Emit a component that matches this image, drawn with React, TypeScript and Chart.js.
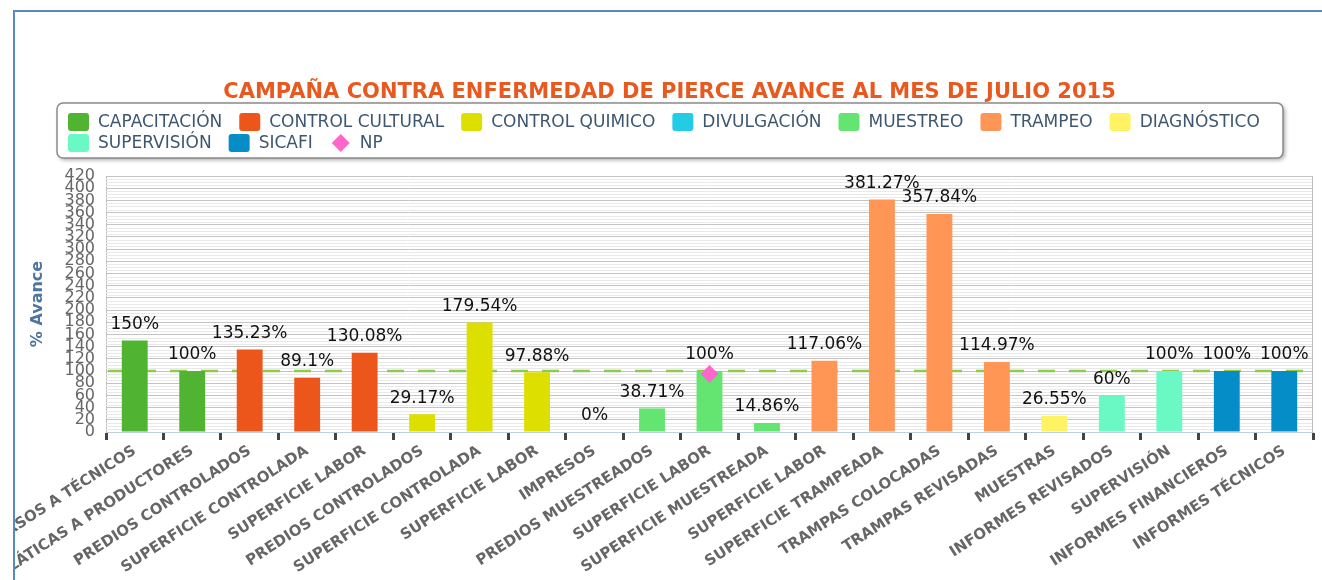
import React, { useEffect, useRef } from 'react';
import { Chart, registerables } from 'chart.js';

Chart.register(...registerables);

const N = null;

const categories = [
  'CURSOS A TÉCNICOS',
  'PLÁTICAS A PRODUCTORES',
  'PREDIOS CONTROLADOS',
  'SUPERFICIE CONTROLADA',
  'SUPERFICIE LABOR',
  'PREDIOS CONTROLADOS',
  'SUPERFICIE CONTROLADA',
  'SUPERFICIE LABOR',
  'IMPRESOS',
  'PREDIOS MUESTREADOS',
  'SUPERFICIE LABOR',
  'SUPERFICIE MUESTREADA',
  'SUPERFICIE LABOR',
  'SUPERFICIE TRAMPEADA',
  'TRAMPAS COLOCADAS',
  'TRAMPAS REVISADAS',
  'MUESTRAS',
  'INFORMES REVISADOS',
  'SUPERVISIÓN',
  'INFORMES FINANCIEROS',
  'INFORMES TÉCNICOS',
];

const capacitacion = [150, 100, N, N, N, N, N, N, N, N, N, N, N, N, N, N, N, N, N, N, N];
const controlCultural = [N, N, 135.23, 89.1, 130.08, N, N, N, N, N, N, N, N, N, N, N, N, N, N, N, N];
const controlQuimico = [N, N, N, N, N, 29.17, 179.54, 97.88, N, N, N, N, N, N, N, N, N, N, N, N, N];
const divulgacion = [N, N, N, N, N, N, N, N, 0, N, N, N, N, N, N, N, N, N, N, N, N];
const muestreo = [N, N, N, N, N, N, N, N, N, 38.71, 100, 14.86, N, N, N, N, N, N, N, N, N];
const trampeo = [N, N, N, N, N, N, N, N, N, N, N, N, 117.06, 381.27, 357.84, 114.97, N, N, N, N, N];
const diagnostico = [N, N, N, N, N, N, N, N, N, N, N, N, N, N, N, N, 26.55, N, N, N, N];
const supervision = [N, N, N, N, N, N, N, N, N, N, N, N, N, N, N, N, N, 60, 100, N, N];
const sicafi = [N, N, N, N, N, N, N, N, N, N, N, N, N, N, N, N, N, N, N, 100, 100];
const np = [N, N, N, N, N, N, N, N, N, N, 95, N, N, N, N, N, N, N, N, N, N];

const seriesNames = ['CAPACITACIÓN', 'CONTROL CULTURAL', 'CONTROL QUIMICO', 'DIVULGACIÓN', 'MUESTREO', 'TRAMPEO', 'DIAGNÓSTICO', 'SUPERVISIÓN', 'SICAFI'];
const seriesData = [capacitacion, controlCultural, controlQuimico, divulgacion, muestreo, trampeo, diagnostico, supervision, sicafi];
const seriesColors = ['#50B432', '#ED561B', '#DDDF00', '#24CBE5', '#64E572', '#FF9655', '#FFF263', '#6AF9C4', '#058DC7'];
const npName = 'NP';
const npColor = '#FF66CC';

const yMin = 0;
const yMax = 420;
const yStep = 20;
const yMinorStep = 5;
const targetValue = 100;

const titleText = 'CAMPAÑA CONTRA ENFERMEDAD DE PIERCE AVANCE AL MES DE JULIO 2015';
const yTitleText = '% Avance';

const FONT = "'DejaVu Sans', Verdana, sans-serif";

const decorPlugin = {
  id: 'decor',
  beforeDatasetsDraw(chart: any) {
    const { ctx, chartArea: a, scales } = chart;
    const y = scales.y;
    ctx.save();
    ctx.strokeStyle = '#e9e9e9';
    ctx.lineWidth = 1;
    for (let v = yMin + yMinorStep; v < yMax; v += yMinorStep) {
      if (v % yStep === 0) continue;
      const py = Math.round(y.getPixelForValue(v)) + 0.5;
      ctx.beginPath();
      ctx.moveTo(a.left, py);
      ctx.lineTo(a.right, py);
      ctx.stroke();
    }
    ctx.strokeStyle = '#c0c0c0';
    ctx.beginPath();
    ctx.moveTo(Math.round(a.right) - 0.5, a.top);
    ctx.lineTo(Math.round(a.right) - 0.5, a.bottom);
    ctx.stroke();
    const ty = y.getPixelForValue(targetValue);
    ctx.strokeStyle = '#8DCB4A';
    ctx.lineWidth = 2.5;
    ctx.setLineDash([17, 14]);
    ctx.lineDashOffset = -2;
    ctx.beginPath();
    ctx.moveTo(a.left, ty);
    ctx.lineTo(a.right, ty);
    ctx.stroke();
    ctx.restore();
  },
  afterDatasetsDraw(chart: any) {
    const { ctx } = chart;
    ctx.save();
    ctx.font = `17px ${FONT}`;
    ctx.fillStyle = '#111';
    ctx.textAlign = 'center';
    ctx.textBaseline = 'middle';
    chart.data.datasets.forEach((ds: any, di: number) => {
      if (ds.type === 'line') return;
      const meta = chart.getDatasetMeta(di);
      ds.data.forEach((v: any, i: number) => {
        if (v === null || v === undefined) return;
        const el = meta.data[i];
        if (!el) return;
        ctx.fillText(`${v}%`, el.x, el.y - 16);
      });
    });
    ctx.restore();
  },
  afterDraw(chart: any) {
    const { ctx, width } = chart;
    ctx.save();
    ctx.font = `bold 21px ${FONT}`;
    ctx.fillStyle = '#E8591F';
    ctx.textAlign = 'center';
    ctx.textBaseline = 'middle';
    ctx.fillText(titleText, width / 2 + 1, 81);

    ctx.save();
    ctx.translate(23, 292);
    ctx.rotate(-Math.PI / 2);
    ctx.font = `bold 16px ${FONT}`;
    ctx.fillStyle = '#4d759e';
    ctx.fillText(yTitleText, 0, 0);
    ctx.restore();

    const bx = 42, by = 91, bw = 1226, bh = 55;
    ctx.save();
    ctx.shadowColor = 'rgba(0,0,0,0.35)';
    ctx.shadowBlur = 4;
    ctx.shadowOffsetX = 2;
    ctx.shadowOffsetY = 2;
    ctx.fillStyle = '#fff';
    ctx.beginPath();
    ctx.roundRect(bx, by, bw, bh, 6);
    ctx.fill();
    ctx.restore();
    ctx.strokeStyle = '#8a8a8a';
    ctx.lineWidth = 1.5;
    ctx.beginPath();
    ctx.roundRect(bx, by, bw, bh, 6);
    ctx.stroke();

    const items = seriesNames.map((n, i) => ({ name: n, color: seriesColors[i], diamond: false }));
    items.push({ name: npName, color: npColor, diamond: true });
    ctx.font = `17px ${FONT}`;
    ctx.textAlign = 'left';
    ctx.textBaseline = 'middle';
    const gap = 17;
    let x = bx + 11;
    let rowY = by + 19;
    items.forEach((it) => {
      const tw = ctx.measureText(it.name).width;
      const iw = 30 + tw + gap;
      if (x + iw - gap > bx + bw - 6) {
        x = bx + 11;
        rowY += 21;
      }
      ctx.fillStyle = it.color;
      if (it.diamond) {
        const cx = x + 11, cy = rowY;
        ctx.beginPath();
        ctx.moveTo(cx - 9, cy);
        ctx.lineTo(cx, cy - 9);
        ctx.lineTo(cx + 9, cy);
        ctx.lineTo(cx, cy + 9);
        ctx.closePath();
        ctx.fill();
      } else {
        ctx.beginPath();
        ctx.roundRect(x, rowY - 9, 21, 18, 3);
        ctx.fill();
      }
      ctx.fillStyle = '#3E576F';
      ctx.fillText(it.name, x + 30, rowY + 1);
      x += iw;
    });
    ctx.restore();
  },
};

export default function App() {
  const ref = useRef<HTMLCanvasElement>(null);

  useEffect(() => {
    if (!ref.current) return;
    const datasets: any[] = seriesNames.map((name, i) => ({
      type: 'bar',
      label: name,
      data: seriesData[i],
      backgroundColor: seriesColors[i],
      borderWidth: 0,
      grouped: false,
      barPercentage: 0.45,
      categoryPercentage: 1,
      order: 1,
    }));
    datasets.push({
      type: 'line',
      label: npName,
      data: np,
      showLine: false,
      pointStyle: 'rectRot',
      pointRadius: 9,
      pointBackgroundColor: npColor,
      pointBorderColor: npColor,
      pointBorderWidth: 0,
      backgroundColor: npColor,
      borderColor: npColor,
      order: 0,
    });

    const chart = new Chart(ref.current, {
      type: 'bar',
      data: { labels: categories, datasets },
      options: {
        animation: false,
        responsive: false,
        layout: { padding: { top: 164, right: 6, left: 0, bottom: 0 } },
        plugins: {
          legend: { display: false },
          title: { display: false },
          tooltip: { enabled: false },
        },
        scales: {
          x: {
            type: 'category',
            offset: true,
            grid: {
              display: true,
              drawOnChartArea: false,
              drawTicks: true,
              tickLength: 8,
              tickWidth: 3,
              tickColor: '#444',
              offset: true,
            },
            border: { display: true, color: '#c0d0e0', width: 1 },
            ticks: {
              autoSkip: false,
              maxRotation: 33,
              minRotation: 33,
              padding: 2,
              color: '#666',
              font: { family: FONT, size: 15, weight: 'bold' },
            },
            afterFit: (s: any) => {
              s.height = 148;
              s.paddingLeft = 0;
              s.paddingRight = 0;
            },
          },
          y: {
            min: yMin,
            max: yMax,
            ticks: {
              stepSize: yStep,
              autoSkip: false,
              padding: 11,
              color: '#666',
              font: { family: FONT, size: 16 },
            },
            grid: { color: '#c4c4c4', drawTicks: false, lineWidth: 1 },
            border: { display: true, color: '#c0c0c0' },
            afterFit: (s: any) => {
              s.width = 91;
              s.paddingTop = 0;
              s.paddingBottom = 0;
            },
          },
        },
      } as any,
      plugins: [decorPlugin],
    });
    return () => chart.destroy();
  }, []);

  return (
    <div style={{ position: 'absolute', left: 0, top: 0, width: 1322, height: 580, background: '#fff', overflow: 'hidden' }}>
      <div
        style={{
          position: 'absolute',
          left: 13,
          top: 10,
          width: 1322 - 13,
          height: 580 - 10,
          borderLeft: '2px solid #5a88c2',
          borderTop: '2px solid #5a88c2',
          boxSizing: 'border-box',
        }}
      />
      <canvas ref={ref} width={1307} height={568} style={{ position: 'absolute', left: 15, top: 12, width: 1307, height: 568 }} />
    </div>
  );
}
